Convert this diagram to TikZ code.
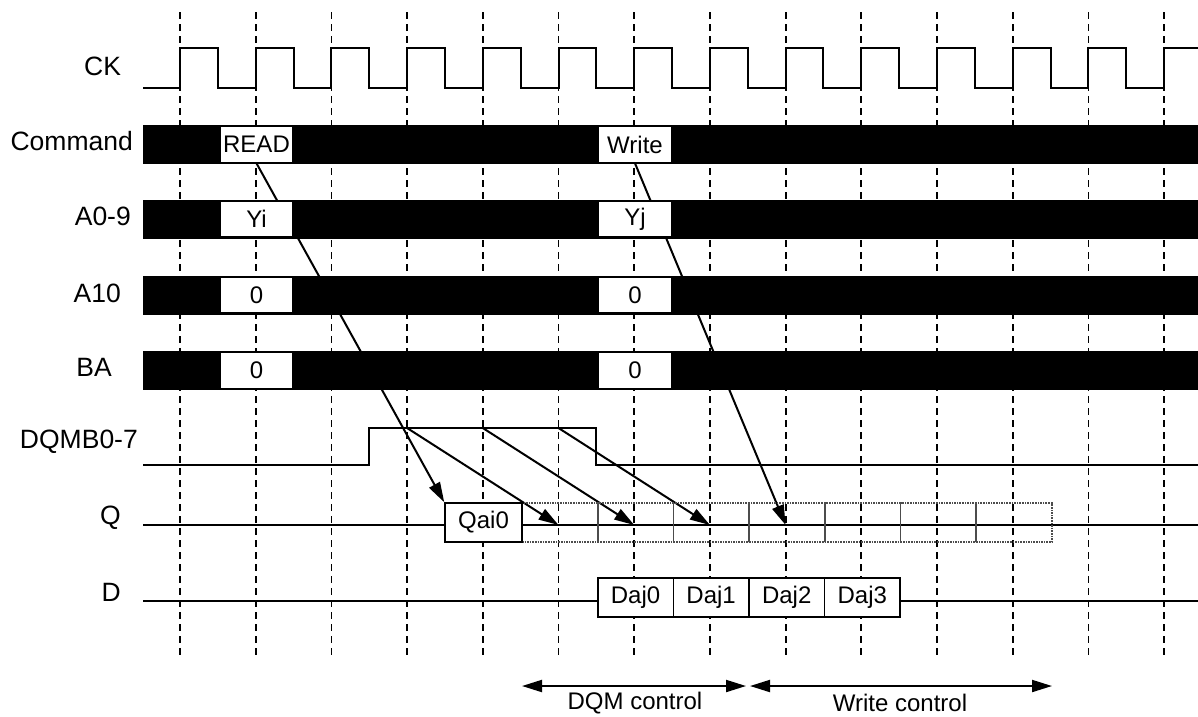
\documentclass[tikz,border=0pt]{standalone}
\usepackage{fontspec}
\setmainfont{Liberation Sans}
\usetikzlibrary{arrows.meta}
\usetikzlibrary{backgrounds}
\tikzset{l/.style={font=\fontsize{26.5}{26.5}\selectfont,inner sep=0pt}}
\tikzset{m/.style={font=\fontsize{24}{24}\selectfont}}
\tikzset{sig/.style={line width=2pt}}
\tikzset{tick/.style={line width=1.8pt,dash pattern=on 7pt off 5pt}}
\tikzset{cell/.style={draw,fill=white,line width=1.6pt,inner sep=0pt,minimum width=75.6pt,minimum height=39pt,m}}
\tikzset{slot/.style={cell,minimum width=73pt,minimum height=36pt}}
\tikzset{ghost/.style={draw=black!70,densely dotted,line width=1.6pt}}

\begin{document}
\begin{tikzpicture}[x=1pt,y=-1pt,>={Triangle[length=20pt,width=12pt]}]
  \useasboundingbox (0,0) rectangle (1198,716);
  \foreach \k in {0,...,13}
    \draw[tick] ({180+75.7*\k},12) -- ({180+75.7*\k},655);
  \draw[sig] (143,88) foreach \k in {0,...,12} {-- ({180+75.7*\k},88) -- ++(0,-40) -- ++(37.85,0) -- ++(0,40)}
    -- (1164.1,88) -- (1164.1,48) -- (1198,48);
  \foreach \y in {144.5,219,295,370.5}
    \fill (143,\y-19.5) rectangle (1198,\y+19.5);
  \node[slot] (rd) at (256.5,144.5) {READ};
  \node[slot] (yi) at (256.5,219) {Yi};
  \node[slot] (ra) at (256.5,295) {0};
  \node[slot] (rb) at (256.5,370.5) {0};
  \node[slot] (wr) at (635,144.5) {Write};
  \node[slot] (yj) at (635,219) {Yj};
  \node[slot] (wa) at (635,295) {0};
  \node[slot] (wb) at (635,370.5) {0};
  \node[l,anchor=west] (ck) at (84,66) {CK};
  \node[l,anchor=east] (cmd) at (133,141) {Command};
  \node[l,anchor=east] (adr) at (131,216) {A0-9};
  \node[l,anchor=east] (a10) at (121,293) {A10};
  \node[l,anchor=east] (ba) at (112,367) {BA};
  \node[l,anchor=east] (dqm) at (138,442) {DQMB0-7};
  \node[l,anchor=east] (q) at (121,518) {Q};
  \node[l,anchor=east] (d) at (121,592) {D};
  \draw[sig] (143,465) -- (369,465) -- (369,428) -- (596,428) -- (596,465) -- (1198,465);
  \foreach \k in {3,4,5}
    \coordinate (m\k) at ({180+75.7*\k},428);
  \draw[sig] (143,525) -- (1198,525);
  \foreach \i in {0,...,6}
    \draw[ghost] ({522+75.7*\i},503) rectangle ++(75.7,39);
  \node[cell,minimum width=77pt] (q0) at (483.5,522.5) {Qai0};
  \foreach \k in {5,...,8}
    \coordinate (t\k) at ({180+75.7*\k},525);
  \draw[sig] (143,601) -- (1198,601);
  \foreach \i in {0,...,3}
    \node[cell] (d\i) at ({635.5+75.6*\i},597.5) {Daj\i};
  \begin{scope}[on background layer]
    \draw[sig,->] (rd.south) -- (q0.north west);
    \draw[sig,->] (wr.south) -- (t8);
    \foreach \a/\b in {3/5,4/6,5/7}
      \draw[sig,->] (m\a) -- (t\b);
  \end{scope}
  \coordinate (dl) at (522,686);
  \coordinate (dr) at (746,686);
  \coordinate (wl) at (750,686);
  \coordinate (wre) at (1052,686);
  \draw[sig,<->] (dl) -- (dr);
  \draw[sig,<->] (wl) -- (wre);
  \node[m] (dqmtxt) at (635,703) {DQM control};
  \node[m] (wrtxt) at (900,703) {Write control};
\end{tikzpicture}
\end{document}
